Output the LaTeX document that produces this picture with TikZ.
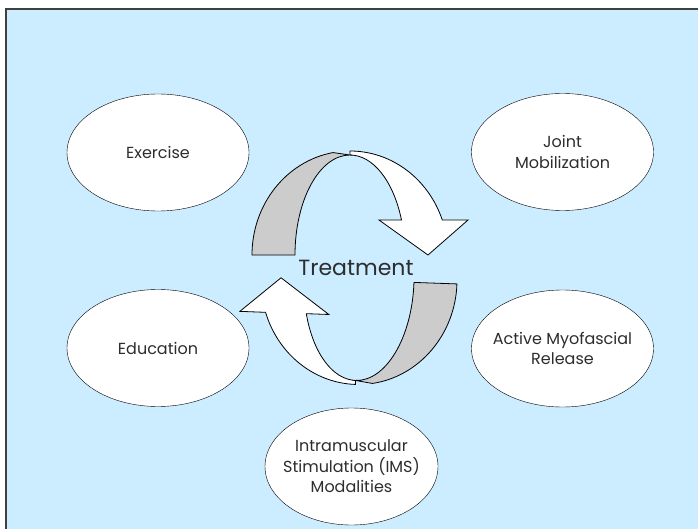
\documentclass[tikz,border=0pt]{standalone}
\usepackage{fontspec}
\setmainfont{Poppins}
\usetikzlibrary{shapes.geometric}
\definecolor{paleblue}{RGB}{204,236,255}
\definecolor{bandgray}{RGB}{204,204,204}
\definecolor{framegray}{RGB}{64,64,64}
\definecolor{textgray}{RGB}{45,45,45}

\begin{document}
\begin{tikzpicture}
	[
		x               = 1pt,
		y               = 1pt,
		align           = center,
		text            = textgray,
		font            = \fontsize{16}{20.5}\selectfont
	]
	\tikzstyle{bubble}=[ellipse, draw, fill=white, inner sep=-30pt,
		minimum width=182pt, minimum height=117pt]
	\tikzstyle{band}=[draw, fill=white, line width=0.8pt, line join=miter]
	\useasboundingbox (0,0) rectangle (698,-529);
	% backdrop
	\draw [framegray, line width=1.5pt, fill=paleblue] (6,-9) rectangle (720,-560);
	% the two turning arrows
	\foreach \cx/\cy/\rot in {350/-255/0, 359/-280.5/178} {
		\begin{scope}[shift={(\cx,\cy)}, rotate=\rot]
			\draw [band] (0,104)
				arc [start angle=90, end angle=19.7, x radius=98, y radius=104]
				-- (118,35) -- (78,0) -- (29,35) -- (51.5,35)
				arc [start angle=20.5, end angle=90, x radius=55, y radius=100]
				-- cycle;
			\draw [band, fill=bandgray] (-98,0)
				arc [start angle=180, end angle=100, x radius=98, y radius=104]
				-- (0,100)
				arc [start angle=90, end angle=180, x radius=55, y radius=100]
				-- cycle;
		\end{scope}
	}
	\node [font=\fontsize{22}{26}\selectfont] (treatment) at (356,-268) {Treatment};
	% the five fields
	\node [bubble] (exercise)  at (158,-152.5)   {Exercise};
	\node [bubble] (joint)     at (562.5,-152)   {Joint\\Mobilization};
	\node [bubble] (education) at (158,-348)     {Education};
	\node [bubble] (release)   at (562.5,-348.5) {Active Myofascial\\Release};
	\node [bubble, minimum width=173pt] (ims) at (351.5,-466.5)
		{Intramuscular\\Stimulation (IMS)\\Modalities};
\end{tikzpicture}
\end{document}
